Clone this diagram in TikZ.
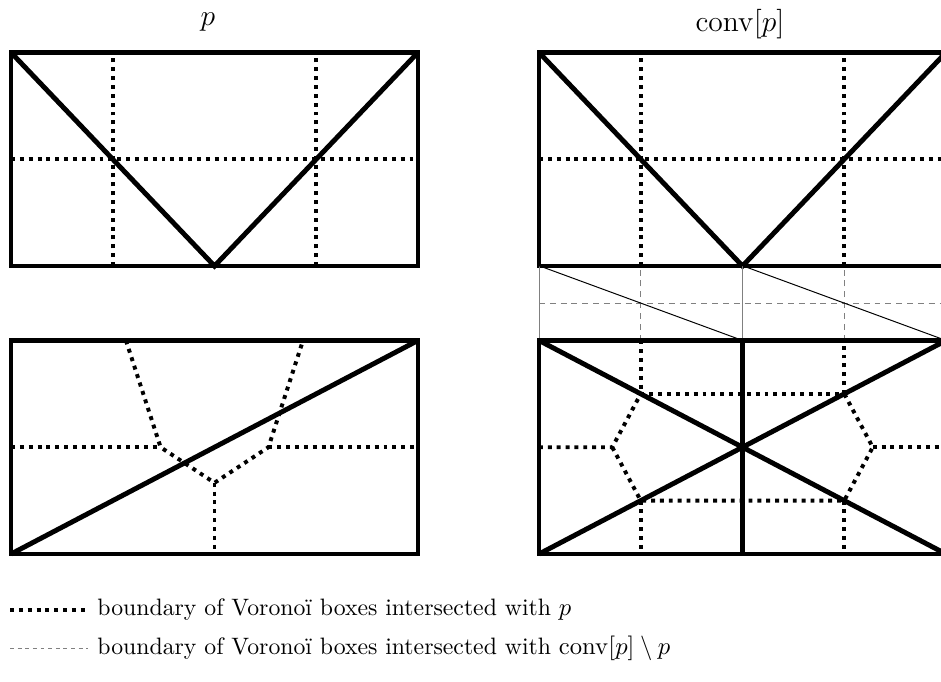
\documentclass[tikz,border=0pt]{standalone}
\usepackage{amsmath,amssymb}

\begin{document}
\begin{tikzpicture}[x=0.4065pt,y=-0.4065pt,line width=.4pt,
  boxline/.style={line width=2pt,line join=miter},
  vorline/.style={line width=1.6pt,dotted},
  hullline/.style={gray,dash pattern=on 2.4pt off 2pt},
  guideline/.style={gray},
  ttl/.style={font=\fontsize{12}{14}\selectfont},
  lgd/.style={anchor=west,inner sep=0pt,font=\fontsize{9.65}{12}\selectfont}]
\clip (0,0) rectangle (941,682);
\node[ttl] (ttlp) at (208,22) {$p$};
\node[ttl] (ttlconv) at (740,24) {$\mathrm{conv}[p]$};
% upper left: p
\begin{scope}[shift={(11,266)},x=41.36pt,y=43.4pt]
\draw[vorline] (1,0) -- (1,2) (3,0) -- (3,2) (0,1) -- (4,1);
\draw[boxline] (0,0) rectangle (4,2);
\draw[boxline] (0,2) -- (2,0) -- (4,2);
\end{scope}
% upper right: conv[p]
\begin{scope}[shift={(539,266)},x=41.36pt,y=43.4pt]
\draw[vorline] (1,0) -- (1,2) (3,0) -- (3,2) (0,1) -- (4,1);
\draw[boxline] (0,0) rectangle (4,2);
\draw[boxline] (0,2) -- (2,0) -- (4,2);
\end{scope}
% lower left: p
\begin{scope}[shift={(11,554)},x=41.36pt,y=43.4pt]
\draw[vorline] (1.13,2) -- (1.47,1) -- (2,0.667) -- (2.53,1) -- (2.87,2);
\draw[vorline] (0,1) -- (1.47,1) (2.53,1) -- (4,1) (2,0.667) -- (2,0);
\draw[boxline] (0,0) rectangle (4,2);
\draw[boxline] (0,0) -- (4,2);
\end{scope}
% lower right: conv[p]
\begin{scope}[shift={(539,554)},x=41.36pt,y=43.4pt]
\draw[guideline] (0,2) -- (0,2.7) (2,2) -- (2,2.7);
\draw[hullline] (1,2) -- (1,2.7) (3,2) -- (3,2.7) (0,2.35) -- (4,2.35);
\draw (0,2.7) -- (2,2) (2,2.7) -- (4,2);
\draw[vorline] (1,2) -- (1,1.5) -- (3,1.5) -- (3,2);
\draw[vorline] (0,1) -- (0.72,1) -- (1,1.5) (0.72,1) -- (1,0.5) -- (3,0.5) -- (3.28,1) -- (3,1.5);
\draw[vorline] (3.28,1) -- (4,1) (1,0.5) -- (1,0) (3,0.5) -- (3,0);
\draw[boxline] (0,0) rectangle (4,2);
\draw[boxline] (0,0) -- (4,2) (0,2) -- (4,0) (2,0) -- (2,2);
\end{scope}
% legend
\coordinate (vorA) at (10,610);
\coordinate (vorB) at (88,610);
\coordinate (hullA) at (10,648);
\coordinate (hullB) at (88,648);
\draw[vorline] (vorA) -- (vorB);
\draw[hullline,dash pattern=on 1.6pt off 1.5pt] (hullA) -- (hullB);
\node[lgd] (vortext) at (97,610) {boundary of Voronoï boxes intersected with $p$};
\node[lgd] (hulltext) at (97,648) {boundary of Voronoï boxes intersected with $\mathrm{conv}[p]\setminus p$};
\end{tikzpicture}
\end{document}
